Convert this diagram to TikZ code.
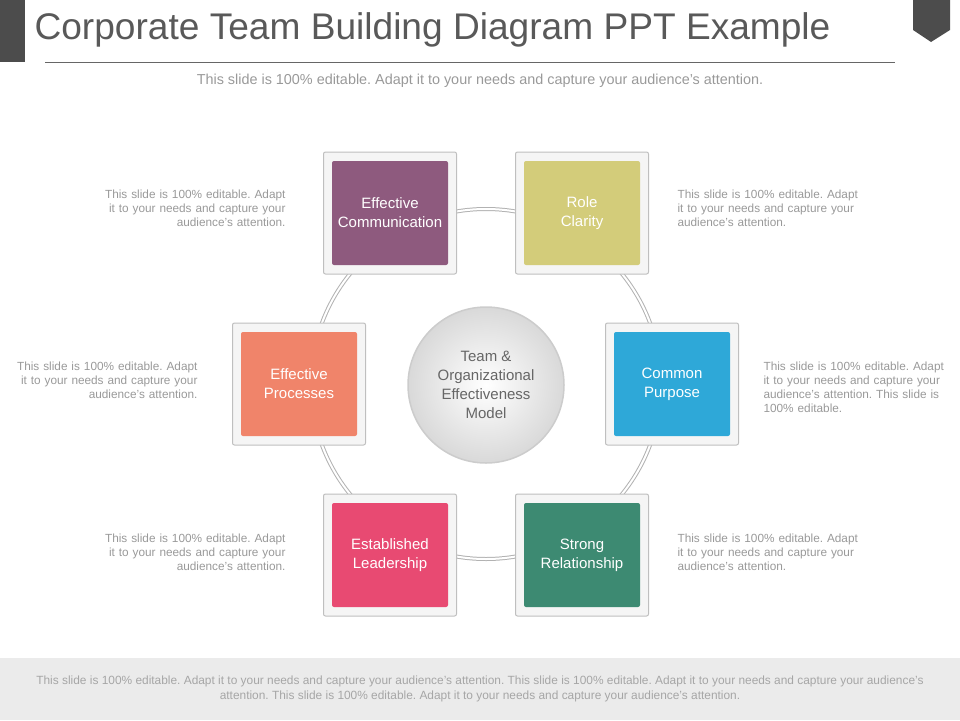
\documentclass[tikz,border=0pt]{standalone}
\usepackage{fontspec}
\setmainfont{Liberation Sans}
\hyphenpenalty=10000 \exhyphenpenalty=10000
\frenchspacing
\begin{document}
\begin{tikzpicture}[x=1pt,y=-1pt,
  frame/.style={draw=black!25,line width=1pt,fill=black!4,minimum width=133pt,minimum height=122pt,rounded corners=2pt},
  inner/.style={minimum width=116pt,minimum height=104pt,rounded corners=2pt,text=white,font=\fontsize{15}{19}\selectfont,align=center},
  side/.style={text=black!40,font=\fontsize{11.8}{14.2}\selectfont,text width=200pt},
]
\useasboundingbox (0,0) rectangle (960,720);
\fill[black!70] (0,0) rectangle (25,62);
\fill[black!70] (913,0) -- (950,0) -- (950,30) -- (931,42) -- (913,30) -- cycle;
\node[anchor=west,text=black!65,font=\fontsize{37.1}{42}\selectfont] (title) at (31,30) {Corporate Team Building Diagram PPT Example};
\draw[black!60] (45,62) -- (895,62);
\node[text=black!40,font=\fontsize{14.4}{17}\selectfont] (sub) at (480,81) {This slide is 100\% editable. Adapt it to your needs and capture your audience's attention.};
\fill[black!8] (0,658) rectangle (960,720);
\node[text=black!35,font=\fontsize{11.9}{14.5}\selectfont,align=center] (foot) at (480,689) {This slide is 100\% editable. Adapt it to your needs and capture your audience's attention. This slide is 100\% editable. Adapt it to your needs and capture your audience's\\attention. This slide is 100\% editable. Adapt it to your needs and capture your audience's attention.};
\draw[black!30,line width=4pt] (486,384) circle (175);
\draw[white,line width=2pt] (486,384) circle (175);
\node[circle,minimum size=156pt,draw=black!20,line width=1.5pt,inner color=white,outer color=black!15,text=black!60,font=\fontsize{15}{19}\selectfont,align=center] (c) at (486,385) {Team \&\\Organizational\\Effectiveness\\Model};
\foreach \n/\x/\y/\col/\t in {a/390/213/{rgb,255:red,142;green,90;blue,126}/{Effective\\Communication},
  b/582/213/{rgb,255:red,211;green,204;blue,122}/{Role\\Clarity},
  l/299/384/{rgb,255:red,240;green,132;blue,106}/{Effective\\Processes},
  r/672/384/{rgb,255:red,46;green,168;blue,216}/{Common\\Purpose},
  d/390/555/{rgb,255:red,232;green,74;blue,114}/{Established\\Leadership},
  e/582/555/{rgb,255:red,61;green,138;blue,114}/{Strong\\Relationship}}{
  \node[frame] (f\n) at (\x,\y) {};
  \node[inner,fill=\col] (i\n) at (\x,\y) {\t};
}
\node[side,align=right,anchor=north east] (s1) at (289,186) {This slide is 100\% editable. Adapt\\it to your needs and capture your\\audience's attention.};
\node[side,align=right,anchor=north east] (s2) at (201,358) {This slide is 100\% editable. Adapt\\it to your needs and capture your\\audience's attention.};
\node[side,align=right,anchor=north east] (s3) at (289,530) {This slide is 100\% editable. Adapt\\it to your needs and capture your\\audience's attention.};
\node[side,align=left,anchor=north west] (s4) at (674,186) {This slide is 100\% editable. Adapt\\it to your needs and capture your\\audience's attention.};
\node[side,align=left,anchor=north west] (s5) at (760,358) {This slide is 100\% editable. Adapt\\it to your needs and capture your\\audience's attention. This slide is\\100\% editable.};
\node[side,align=left,anchor=north west] (s6) at (674,530) {This slide is 100\% editable. Adapt\\it to your needs and capture your\\audience's attention.};
\end{tikzpicture}
\end{document}
